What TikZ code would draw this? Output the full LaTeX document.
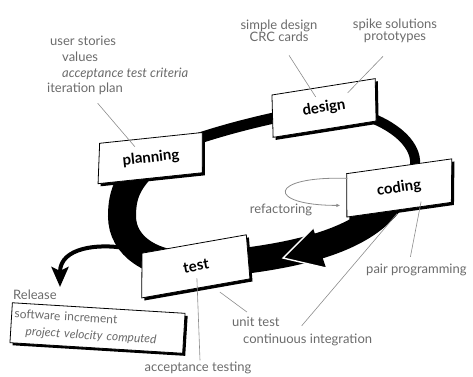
\documentclass[tikz,border=0pt]{standalone}
\usepackage{fontspec}
\setmainfont{Lato}
\usetikzlibrary{shapes.geometric,shadows,arrows.meta,backgrounds}

\definecolor{notegray}{gray}{0.42}
\definecolor{leadgray}{gray}{0.55}

\tikzset{
  stage/.style={trapezium, trapezium stretches body, draw=black, line width=0.8pt, fill=white,
    inner sep=2pt, font=\fontsize{15}{17}\selectfont\bfseries,
    drop shadow={shadow xshift=2.6pt, shadow yshift=-2.6pt, fill=black, opacity=1}},
  relbox/.style={rectangle, draw=black, line width=0.8pt, fill=white, inner sep=3pt,
    text=notegray, font=\fontsize{12}{17}\selectfont,
    drop shadow={shadow xshift=2.6pt, shadow yshift=-2.6pt, fill=black, opacity=1}},
  note/.style={text=notegray, inner sep=0pt, font=\fontsize{13}{12.5}\selectfont},
  leader/.style={draw=leadgray, line width=0.6pt},
  band/.style={draw=black, line cap=butt},
}

\begin{document}
\begin{tikzpicture}[x=1pt,y=1pt]
\useasboundingbox (0,0) rectangle (473,376);

% Stages
\node[stage, trapezium left angle=72, trapezium right angle=103, minimum width=109pt, minimum height=40pt, rotate=6] (planning) at (151,218) {planning};
\node[stage, trapezium left angle=73, trapezium right angle=108, minimum width=110pt, minimum height=42pt, rotate=9] (design) at (324,268) {design};
\node[stage, trapezium left angle=72, trapezium right angle=110, minimum width=112pt, minimum height=43pt, rotate=8] (coding) at (399,188) {coding};
\node[stage, trapezium left angle=60, trapezium right angle=106, minimum width=114pt, minimum height=44pt, rotate=10] (test) at (196,110) {test};

% Release
\node[note, anchor=west] (relnote) at (13,81) {Release};
\node[relbox, rotate=-3.5, text width=167pt, align=left, minimum height=40pt] (release) at (97.5,48)
  {software increment\\\hspace*{12pt}\textit{project velocity computed}};

% Text Node
\node[note, anchor=north west, align=left, font=\fontsize{13}{15.7}\selectfont] (plannote) at (47,340)
  {\hspace*{3pt}user stories\\\hspace*{15pt}values\\\hspace*{15pt}\textit{acceptance test criteria}\\iteration plan};
\node[note, align=center] (designnote) at (279,345) {simple design\\CRC cards};
\node[note, align=center] (spikenote) at (395,345) {spike solutions\\prototypes};
\node[note] (refnote) at (281,166) {refactoring};
\node[note, anchor=west] (pairnote) at (366,106) {pair programming};
\node[note, anchor=west] (unitnote) at (232,54) {unit test};
\node[note, anchor=west] (cinote) at (243,36) {continuous integration};
\node[note] (accnote) at (198,8) {acceptance testing};

\coordinate (bandL) at (122,160);
\coordinate (relfrom) at (124,128);
\coordinate (relto) at (60,89);
\coordinate (ahtip) at (283,118);
\coordinate (ahtop) at (313,148);
\coordinate (ahbot) at (326,108);

% the cycle
\begin{scope}[on background layer]
\draw[band, line width=11pt] (planning.center) to[out=28, in=190, out distance=55pt, in distance=40pt] (design.center);
\draw[band, line width=10pt] (design.center) to[out=-3, in=35, out distance=70pt, in distance=52pt] (coding.center);
\draw[band, line width=26pt] (coding.center) to[out=-115, in=5, out distance=62pt, in distance=90pt] (test.center);
\draw[band, line width=28pt] (test.center) to[out=180, in=270, out distance=45pt, in distance=30pt] (bandL)
  to[out=90, in=225, out distance=25pt, in distance=30pt] (planning.center);
\fill[black] (ahtip) -- (ahtop) -- (ahbot) -- cycle;
\draw[white, line width=1.4pt] (ahtop) -- (ahtip) -- (ahbot);
\draw[line width=4pt, -{Stealth[length=20pt, width=17pt, inset=4pt]}] (relfrom) to[out=170, in=90, out distance=25pt, in distance=40pt] (relto);
\end{scope}

% leaders
\draw[leader] ([xshift=-20pt, yshift=-8pt]plannote.south) -- ([xshift=-14pt, yshift=-9pt]planning.north);
\draw[leader] ([xshift=10pt, yshift=-13pt]designnote.south) -- ([xshift=-5pt, yshift=-10pt]design.north);
\draw[leader] ([xshift=-12pt, yshift=-13pt]spikenote.south) -- ([xshift=27pt, yshift=-6pt]design.north);
\draw[leader] ([xshift=19pt, yshift=8pt]coding.south) -- ([xshift=-6pt, yshift=7pt]pairnote.north);
\draw[leader] ([xshift=-5pt, yshift=-4pt]coding.south) -- ([xshift=-6pt, yshift=8pt]cinote.north);
\draw[leader] ([xshift=20pt, yshift=-4pt]test.south) -- ([xshift=-9pt, yshift=5pt]unitnote.north);
\draw[leader] ([xshift=-3pt, yshift=10pt]test.south) -- ([xshift=2pt, yshift=1.5pt]accnote.north);
\draw[leader, line width=0.8pt, -{Latex[length=4pt, width=3.5pt]}] ([xshift=1pt, yshift=17pt]coding.west)
  to[out=178, in=180, out distance=80pt, in distance=75pt] ([xshift=-6pt, yshift=-10pt]coding.west);

\end{tikzpicture}
\end{document}
